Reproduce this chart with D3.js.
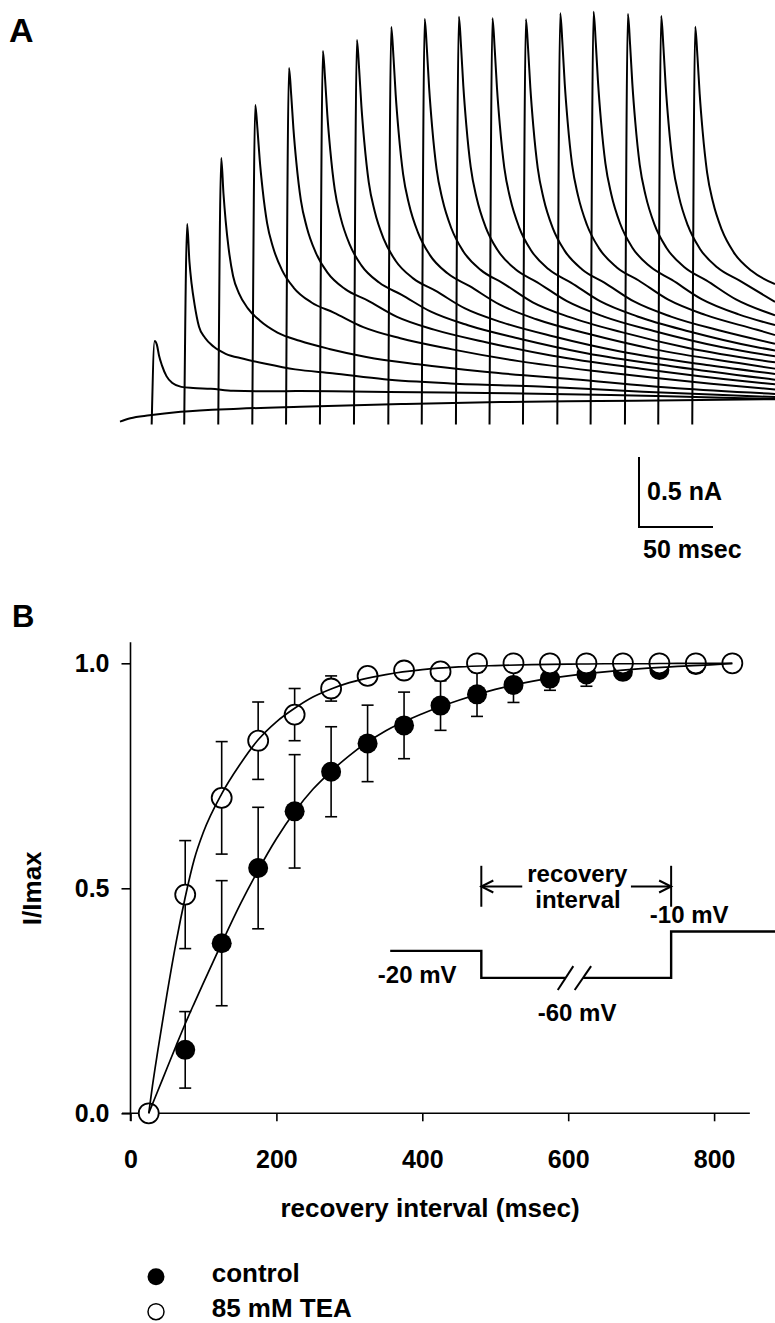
<!DOCTYPE html>
<html><head><meta charset="utf-8">
<script src="https://cdn.jsdelivr.net/npm/d3@7"></script>
<style>
body{margin:0;background:#fff}
svg{display:block}
text{font-family:'Liberation Sans',Arial,Helvetica,sans-serif;font-weight:bold;fill:#000}
</style>
</head><body>
<svg id="fig" width="775" height="1323"></svg>
<script>
// ================= PANEL A DATA (time in ms, current in nA) =================
const sweepEnd = 442.6;
const stimulusFloor = -0.16;
const traceOnsets = [21.4, 43.4, 66.4, 89.4, 112.2, 135.1, 158.1, 181.3, 203.9, 227.0, 249.7, 272.3, 295.5, 318.0, 341.2, 363.7, 386.7];
const traceDelays = [2, 3.5, 5, 7, 10, 14, 20, 28, 40, 55, 75, 100, 135, 180, 240, 310, 380];
const traceValues = [
  [0.436,0.41,0.33,0.26,0.185,0.135,0.108,0.10,0.095,0.08,0.076,0.078,0.075,0.07,0.063,0.05,0.032],
  [1.271,1.004,0.843,0.696,0.537,0.459,0.394,0.344,0.309,0.273,0.233,0.206,0.163,0.133,0.111,0.073,0.043],
  [1.743,1.491,1.294,1.097,0.900,0.776,0.669,0.582,0.496,0.437,0.379,0.322,0.269,0.216,0.162,0.098],
  [2.121,1.947,1.731,1.515,1.278,1.105,0.944,0.816,0.711,0.639,0.535,0.455,0.376,0.292,0.211,0.131],
  [2.386,2.192,1.951,1.708,1.442,1.249,1.069,0.924,0.806,0.726,0.608,0.517,0.427,0.330,0.238,0.148],
  [2.507,2.304,2.051,1.797,1.518,1.317,1.127,0.976,0.853,0.767,0.645,0.548,0.452,0.348,0.252],
  [2.586,2.377,2.117,1.856,1.569,1.362,1.167,1.011,0.883,0.795,0.668,0.569,0.468,0.361,0.262],
  [2.679,2.464,2.194,1.925,1.628,1.413,1.212,1.051,0.919,0.827,0.697,0.591,0.487,0.376,0.273],
  [2.736,2.516,2.242,1.967,1.665,1.446,1.241,1.077,0.942,0.848,0.712,0.606,0.499,0.386],
  [2.752,2.532,2.256,1.980,1.677,1.457,1.251,1.087,0.950,0.855,0.720,0.610,0.504,0.391],
  [2.741,2.522,2.248,1.974,1.672,1.453,1.248,1.084,0.948,0.853,0.718,0.611,0.504,0.393],
  [2.734,2.516,2.242,1.969,1.669,1.450,1.246,1.083,0.947,0.853,0.718,0.610,0.505],
  [2.776,2.554,2.277,2.000,1.695,1.474,1.266,1.101,0.963,0.868,0.731,0.622,0.516],
  [2.788,2.566,2.287,2.009,1.704,1.482,1.273,1.106,0.969,0.872,0.735,0.626],
  [2.771,2.550,2.274,1.998,1.694,1.474,1.267,1.102,0.965,0.869,0.733],
  [2.757,2.537,2.263,1.988,1.687,1.467,1.261,1.097,0.961,0.867],
  [2.681,2.468,2.201,1.934,1.641,1.428,1.229,1.069,0.937]
];
const traceEndValues = [0.022,0.035,0.058,0.089,0.126,0.159,0.200,0.238,0.283,0.326,0.368,0.416,0.478,0.549,0.620,0.715,0.842];
const baselineTimes = [0, 7, 20, 41, 80, 122, 190, 257, 324, 392, 442.6];
const baselineValues = [-0.14, -0.116, -0.095, -0.07, -0.048, -0.034, -0.015, 0, 0.007, 0.014, 0.02];
const scaleBarOrigin = [350.7, -0.893];
const scaleBarTime = 50;      // msec
const scaleBarCurrent = 0.5;  // nA

// ================= PANEL B DATA =================
const intervals = [25, 75, 125, 175, 225, 275, 325, 375, 425, 475, 525, 575, 625, 675, 725, 775, 825];
const controlMean = [0, 0.141, 0.378, 0.545, 0.671, 0.759, 0.822, 0.862, 0.906, 0.931, 0.952, 0.966, 0.975, 0.981, 0.985, 0.996, 1.0];
const controlSem  = [0, 0.085, 0.139, 0.135, 0.126, 0.100, 0.085, 0.074, 0.055, 0.049, 0.039, 0.026, 0.026, 0.015, 0.012, 0.008, 0];
const teaMean = [0, 0.486, 0.701, 0.828, 0.886, 0.944, 0.972, 0.984, 0.982, 1.0, 1.0, 1.0, 1.0, 1.0, 1.0, 1.0, 1.0];
const teaSem  = [0, 0.120, 0.125, 0.086, 0.058, 0.028, 0.012, 0.010, 0.005, 0.005, 0.005, 0.005, 0.005, 0.005, 0.005, 0.005, 0];
const fitTimes = [25, 30, 37.5, 50, 62.5, 75, 87.5, 100, 125, 150, 175, 200, 225, 250, 275, 300, 350, 400, 450, 500, 550, 600, 650, 700, 750, 800, 825];
const fitTEA = [0, 0.06, 0.14, 0.265, 0.38, 0.48, 0.565, 0.625, 0.71, 0.775, 0.83, 0.87, 0.90, 0.925, 0.943, 0.957, 0.975, 0.986, 0.992, 0.995, 0.997, 0.998, 0.999, 0.999, 1.0, 1.0, 1.0];
const fitControl = [0, 0.02, 0.05, 0.10, 0.15, 0.199, 0.245, 0.29, 0.378, 0.463, 0.54, 0.61, 0.67, 0.72, 0.76, 0.795, 0.85, 0.888, 0.918, 0.942, 0.96, 0.972, 0.981, 0.988, 0.993, 0.997, 1.0];
const xTicks = [0, 200, 400, 600, 800];
const yTicks = [0, 0.5, 1.0];
// voltage-protocol inset, in the panel's own units (msec, I/Imax)
const protocolA = [[356, 0.361], [480.9, 0.361], [480.9, 0.301], [596.6, 0.301]];
const protocolB = [[620.4, 0.301], [741.1, 0.301], [741.1, 0.404], [883.5, 0.404]];
const breakMarks = [[[585.7, 0.274], [607.0, 0.327]], [[608.9, 0.274], [631.4, 0.327]]];
const recoveryStart = 480.9, recoveryEnd = 741.1;
const bracketRange = [0.459, 0.55];
const arrowLevel = 0.504;
const arrowTails = [537, 686];
const insetLabels = [
  {text: "recovery", t: 612.5, v: 0.5147, anchor: "middle"},
  {text: "interval", t: 613.4, v: 0.457, anchor: "middle"},
  {text: "-20 mV", t: 339, v: 0.2889, anchor: "start"},
  {text: "-60 mV", t: 558.3, v: 0.2058, anchor: "start"},
  {text: "-10 mV", t: 711.9, v: 0.4222, anchor: "start"}
];
const legendLabels = ["control", "85 mM TEA"];

// ================= DRAW =================
const svg = d3.select("#fig");
svg.append("rect").attr("width", 775).attr("height", 1323).attr("fill", "#fff");

// ---- Panel A
const xA = d3.scaleLinear().domain([0, sweepEnd]).range([120, 775]);
const yA = d3.scaleLinear().domain([0, 2.8]).range([402, 10]);
const lineA = d3.line().x(d => xA(d[0])).y(d => yA(d[1])).curve(d3.curveMonotoneX);
const gA = svg.append("g");
gA.append("path")
  .attr("d", lineA(baselineTimes.map((t, i) => [t, baselineValues[i]])))
  .attr("fill", "none").attr("stroke", "#000").attr("stroke-width", 2);
traceOnsets.forEach((on, k) => {
  const pts = [[on, stimulusFloor]];
  traceValues[k].forEach((v, i) => pts.push([on + traceDelays[i], v]));
  pts.push([sweepEnd, traceEndValues[k]]);
  gA.append("path").attr("d", lineA(pts))
    .attr("fill", "none").attr("stroke", "#000").attr("stroke-width", 2)
    .attr("stroke-linejoin", "round");
});
// scale bar
const sb = gA.append("g");
sb.append("path")
  .attr("d", d3.line()([
    [xA(scaleBarOrigin[0]), yA(scaleBarOrigin[1] + scaleBarCurrent)],
    [xA(scaleBarOrigin[0]), yA(scaleBarOrigin[1])],
    [xA(scaleBarOrigin[0] + scaleBarTime), yA(scaleBarOrigin[1])]
  ]))
  .attr("fill", "none").attr("stroke", "#000").attr("stroke-width", 2);
sb.append("text").attr("x", xA(scaleBarOrigin[0]) + 8).attr("y", 500)
  .attr("font-size", 25).text(scaleBarCurrent + " nA");
sb.append("text").attr("x", xA(scaleBarOrigin[0]) + 4).attr("y", 558)
  .attr("font-size", 25).text(scaleBarTime + " msec");
svg.append("text").attr("x", 9).attr("y", 42).attr("font-size", 34).text("A");

// ---- Panel B
svg.append("text").attr("x", 12).attr("y", 627).attr("font-size", 31).text("B");
const xB = d3.scaleLinear().domain([0, 800]).range([130.5, 714.1]);
const yB = d3.scaleLinear().domain([0, 1]).range([1113.3, 663.3]);
const gB = svg.append("g");

// axis lines
gB.append("line").attr("x1", xB(-11.7)).attr("x2", xB(849)).attr("y1", yB(0)).attr("y2", yB(0))
  .attr("stroke", "#000").attr("stroke-width", 1.6);
gB.append("line").attr("x1", xB(0)).attr("x2", xB(0)).attr("y1", yB(-0.017)).attr("y2", yB(1.047))
  .attr("stroke", "#000").attr("stroke-width", 1.6);
const xAxis = gB.append("g").attr("transform", `translate(0,${yB(0)})`)
  .call(d3.axisBottom(xB).tickValues(xTicks).tickSize(8).tickPadding(29).tickFormat(d3.format("d")));
const yAxis = gB.append("g").attr("transform", `translate(${xB(0)},0)`)
  .call(d3.axisLeft(yB).tickValues(yTicks).tickSize(9).tickPadding(12).tickFormat(d3.format(".1f")));
[xAxis, yAxis].forEach(a => {
  a.attr("font-size", null).attr("font-family", null);
  a.select(".domain").remove();
  a.selectAll(".tick line").attr("stroke", "#000").attr("stroke-width", 1.6);
  a.selectAll(".tick text").attr("font-size", 25).attr("fill", "#000");
});

// axis titles
gB.append("text").attr("x", 430).attr("y", 1217).attr("text-anchor", "middle")
  .attr("font-size", 26).text("recovery interval (msec)");
gB.append("text").attr("transform", `translate(41,${yB(0.5)}) rotate(-90)`)
  .attr("text-anchor", "middle").attr("font-size", 26).text("I/Imax");

// error bars
function errorBars(means, sems) {
  const g = gB.append("g").attr("stroke", "#000").attr("stroke-width", 1.6);
  intervals.forEach((t, i) => {
    if (sems[i] <= 0) return;
    const x = xB(t), y1 = yB(means[i] - sems[i]), y2 = yB(means[i] + sems[i]);
    g.append("line").attr("x1", x).attr("x2", x).attr("y1", y1).attr("y2", y2);
    g.append("line").attr("x1", x - 6).attr("x2", x + 6).attr("y1", y1).attr("y2", y1);
    g.append("line").attr("x1", x - 6).attr("x2", x + 6).attr("y1", y2).attr("y2", y2);
  });
}
errorBars(controlMean, controlSem);
errorBars(teaMean, teaSem);

// points
gB.append("g").selectAll("circle").data(intervals).join("circle")
  .attr("cx", d => xB(d)).attr("cy", (d, i) => yB(controlMean[i])).attr("r", 10)
  .attr("fill", "#000");
gB.append("g").selectAll("circle").data(intervals).join("circle")
  .attr("cx", d => xB(d)).attr("cy", (d, i) => yB(teaMean[i])).attr("r", 10)
  .attr("fill", "#fff").attr("stroke", "#000").attr("stroke-width", 1.8);

// fitted curves
const lineB = d3.line().x(d => xB(d[0])).y(d => yB(d[1])).curve(d3.curveMonotoneX);
[fitTEA, fitControl].forEach(f => {
  gB.append("path").attr("d", lineB(fitTimes.map((t, i) => [t, f[i]])))
    .attr("fill", "none").attr("stroke", "#000").attr("stroke-width", 1.7);
});

// inset: voltage protocol
const lineLin = d3.line().x(d => xB(d[0])).y(d => yB(d[1]));
const gI = gB.append("g").attr("fill", "none").attr("stroke", "#000");
[protocolA, protocolB].forEach(p => gI.append("path").attr("d", lineLin(p)).attr("stroke-width", 2.4));
breakMarks.forEach(b => gI.append("path").attr("d", lineLin(b)).attr("stroke-width", 2));
[recoveryStart, recoveryEnd].forEach(t => gI.append("line")
  .attr("x1", xB(t)).attr("x2", xB(t)).attr("y1", yB(bracketRange[0])).attr("y2", yB(bracketRange[1]))
  .attr("stroke-width", 2));
[[arrowTails[0], recoveryStart], [arrowTails[1], recoveryEnd]].forEach(([from, to]) => {
  const xf = xB(from), xt = xB(to), y = yB(arrowLevel);
  const dir = xt > xf ? -1 : 1;
  gI.append("line").attr("x1", xf).attr("x2", xt).attr("y1", y).attr("y2", y).attr("stroke-width", 2);
  gI.append("path").attr("d", `M${xt + dir * 12},${y - 6}L${xt},${y}L${xt + dir * 12},${y + 6}`)
    .attr("stroke-width", 2);
});
insetLabels.forEach(l => gB.append("text")
  .attr("x", xB(l.t)).attr("y", yB(l.v)).attr("text-anchor", l.anchor)
  .attr("font-size", 24).text(l.text));

// legend
const gL = svg.append("g");
gL.append("circle").attr("cx", 156).attr("cy", 1276.7).attr("r", 8.5).attr("fill", "#000");
gL.append("circle").attr("cx", 156).attr("cy", 1311.7).attr("r", 8).attr("fill", "#fff")
  .attr("stroke", "#000").attr("stroke-width", 1.5);
legendLabels.forEach((s, i) => gL.append("text").attr("x", 211.7).attr("y", 1281.7 + 35 * i)
  .attr("font-size", 26).text(s));
</script>
</body></html>
